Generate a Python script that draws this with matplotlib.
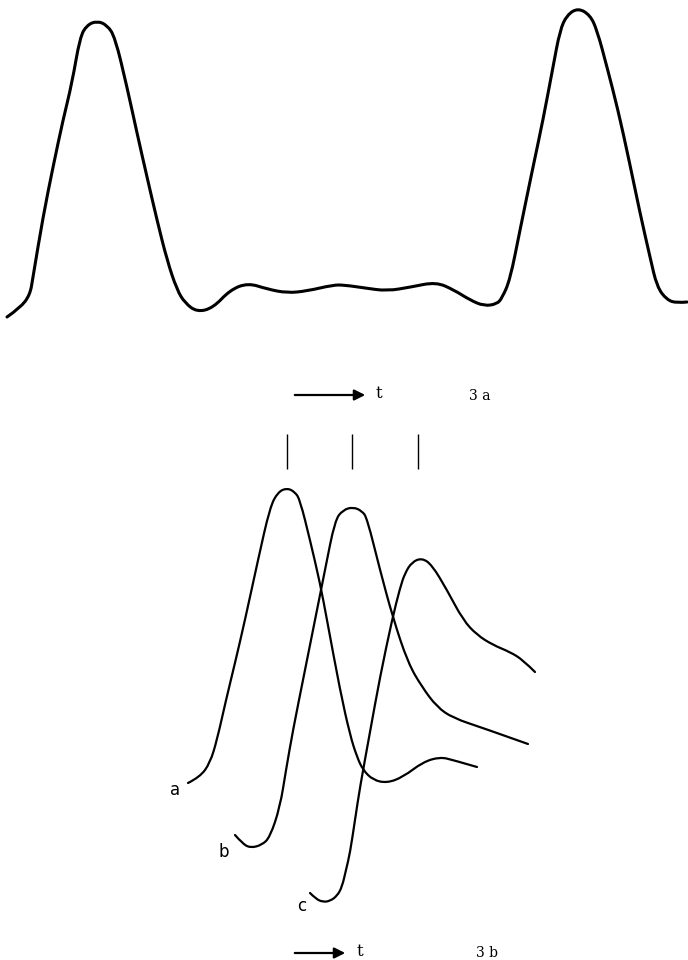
import matplotlib
matplotlib.use("Agg")
import matplotlib.pyplot as plt
from matplotlib.path import Path
from matplotlib.patches import PathPatch

# points, pixel coordinates (x right, y down)
top_x = [7, 20, 30, 33, 43, 53, 63, 72, 80, 87, 97, 107, 115, 127, 137, 147, 157, 167,
         177, 185, 197, 213, 230, 248, 267, 287, 307, 333, 344, 365, 387, 411, 436, 454,
         470, 484, 497, 502, 510, 520, 533, 543, 553, 560, 567, 578, 590, 597, 607, 618,
         629, 640, 650, 657, 667, 677, 687]
top_y = [317, 308, 295, 277, 217, 167, 120, 83, 37, 25, 21, 25, 37, 87, 133, 177, 220, 260,
         290, 303, 312, 308, 290, 283, 289, 293, 291, 285, 285, 288, 291, 287, 282, 290,
         300, 306, 304, 298, 280, 230, 167, 120, 67, 30, 15, 8, 15, 30, 67, 110,
         160, 213, 257, 287, 300, 303, 302]

a_x = [188, 200, 210, 217, 226, 235, 245, 258, 270, 278, 287, 295, 300, 310, 320, 327,
       340, 350, 357, 363, 373, 387, 403, 423, 440, 453, 477]
a_y = [783, 777, 763, 740, 700, 663, 620, 560, 507, 492, 488, 492, 500, 540, 583, 620,
       690, 735, 757, 770, 780, 783, 777, 762, 757, 760, 767]

b_x = [235, 242, 250, 262, 270, 280, 286, 293, 304, 315, 325, 335, 343, 353, 362, 367,
       380, 393, 408, 422, 437, 453, 483, 528]
b_y = [835, 843, 848, 845, 837, 807, 770, 730, 675, 620, 570, 520, 510, 507, 511, 518,
       570, 618, 663, 687, 707, 718, 728, 744]

c_x = [310, 316, 323, 330, 337, 342, 346, 350, 355, 360, 370, 380, 392, 400, 405, 412,
       422, 432, 447, 463, 477, 493, 510, 523, 535]
c_y = [893, 899, 902, 901, 896, 887, 870, 853, 820, 787, 732, 677, 620, 588, 573, 562,
       558, 565, 590, 620, 635, 645, 652, 660, 672]

bar_x = [287, 352, 418]
bar_top, bar_bottom = 434, 469

curve_labels = ["a", "b", "c"]
label_x = [175, 224, 302]
label_y = [790, 852, 906]


def smooth_path(xs, ys):
    # quadratic b-spline through the read points
    pts = list(zip(xs, ys))
    verts = [pts[0]]
    codes = [Path.MOVETO]
    for i in range(1, len(pts) - 1):
        nxt = pts[i + 1]
        end = nxt if i == len(pts) - 2 else ((pts[i][0] + nxt[0]) / 2, (pts[i][1] + nxt[1]) / 2)
        verts += [pts[i], end]
        codes += [Path.CURVE3, Path.CURVE3]
    return Path(verts, codes)


fig = plt.figure(figsize=(6.88, 9.6), dpi=100)
ax = fig.add_axes([0, 0, 1, 1])
ax.set_xlim(0, 688)
ax.set_ylim(960, 0)
ax.axis("off")

ax.add_patch(PathPatch(smooth_path(top_x, top_y), fill=False, lw=2.2, ec="black",
                       capstyle="round", joinstyle="round"))
for xs, ys in [(a_x, a_y), (b_x, b_y), (c_x, c_y)]:
    ax.add_patch(PathPatch(smooth_path(xs, ys), fill=False, lw=1.6, ec="black",
                           capstyle="round", joinstyle="round"))

ax.vlines(bar_x, bar_top, bar_bottom, color="black", lw=1.0)

for lab, x, y in zip(curve_labels, label_x, label_y):
    ax.text(x, y, lab, fontsize=12, ha="center", va="center", family="DejaVu Sans")

# time arrows and panel names
ax.annotate("", xy=(368, 395), xytext=(292, 395),
            arrowprops=dict(arrowstyle="-|>", lw=1.6, color="black", mutation_scale=16))
ax.text(379, 393, "t", fontsize=12, ha="center", va="center", family="DejaVu Serif")
ax.text(480, 396, "3 a", fontsize=10, ha="center", va="center", family="DejaVu Serif")

ax.annotate("", xy=(348, 953), xytext=(292, 953),
            arrowprops=dict(arrowstyle="-|>", lw=1.6, color="black", mutation_scale=16))
ax.text(360, 952, "t", fontsize=12, ha="center", va="center", family="DejaVu Serif")
ax.text(487, 953, "3 b", fontsize=10, ha="center", va="center", family="DejaVu Serif")

fig.savefig("out.png", dpi=100, facecolor="white")
